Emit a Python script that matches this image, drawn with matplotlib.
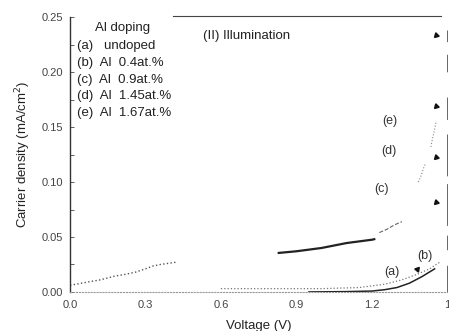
import numpy as np
import matplotlib
matplotlib.use("Agg")
import matplotlib.pyplot as plt

plt.rcParams['font.family'] = ['Liberation Sans', 'DejaVu Sans']

# curve (c): dotted start, solid middle, dashed knee
v_c_dots = [0.0, 0.07, 0.12, 0.18, 0.22, 0.26, 0.30, 0.33, 0.36, 0.39, 0.42]
j_c_dots = [0.006, 0.009, 0.011, 0.0145, 0.016, 0.018, 0.021, 0.0236, 0.025, 0.026, 0.027]
v_c_solid = [0.83, 0.9, 1.0, 1.1, 1.2, 1.21]
j_c_solid = [0.0355, 0.037, 0.040, 0.0445, 0.0475, 0.048]
v_c_dash = [1.23, 1.26, 1.29, 1.32]
j_c_dash = [0.054, 0.057, 0.061, 0.064]

# curves (a) and (b) near the bottom
v_a = [0.95, 1.1, 1.2, 1.25, 1.3, 1.35, 1.4, 1.45]
j_a = [0.0, 0.0003, 0.0008, 0.002, 0.004, 0.008, 0.014, 0.021]
v_b = [0.6, 0.8, 1.0, 1.15, 1.25, 1.32, 1.38, 1.43, 1.47]
j_b = [0.003, 0.003, 0.003, 0.004, 0.007, 0.011, 0.016, 0.021, 0.027]

# steep faint parts of (d) and (e)
v_d = [1.385, 1.395, 1.405, 1.412]
j_d = [0.100, 0.105, 0.112, 0.116]
v_e = [1.435, 1.442, 1.450, 1.456]
j_e = [0.132, 0.140, 0.148, 0.155]

# end marks at the right edge
v_marks = [1.456, 1.456, 1.456, 1.456]
j_marks = [0.234, 0.169, 0.123, 0.082]

labels = ['(a)', '(b)', '(c)', '(d)', '(e)']
label_v = [1.28, 1.41, 1.24, 1.27, 1.27]
label_j = [0.018, 0.033, 0.094, 0.128, 0.156]

legend_lines = ['(a)   undoped', '(b)  Al  0.4at.%', '(c)  Al  0.9at.%',
                '(d)  Al  1.45at.%', '(e)  Al  1.67at.%']

fig = plt.figure(figsize=(4.49, 3.31), dpi=100)
ax = fig.add_axes([0.156, 0.118, 0.84, 0.83])

ax.plot(v_c_dots, j_c_dots, ls=':', lw=1.0, color='#555555')
ax.plot(v_c_solid, j_c_solid, ls='-', lw=1.6, color='#222222')
ax.plot(v_c_dash, j_c_dash, ls='--', lw=0.8, color='#666666')
ax.plot(v_a, j_a, ls='-', lw=1.1, color='#222222')
ax.plot(v_b, j_b, ls=':', lw=0.9, color='#777777')
ax.plot(v_d, j_d, ls=':', lw=0.8, color='#888888')
ax.plot(v_e, j_e, ls=':', lw=0.8, color='#888888')
ax.plot(v_marks, j_marks, ls='none', marker=(3, 0, 15), ms=4, color='#111111')
ax.plot([1.38], [0.021], ls='none', marker=(3, 0, 80), ms=4, color='#111111')

for lab, x, y in zip(labels, label_v, label_j):
    ax.text(x, y, lab, fontsize=9, color='#333333', ha='center', va='center')

ax.text(0.1, 0.240, 'Al doping', fontsize=9.5, color='#222222', va='center')
for i, line in enumerate(legend_lines):
    ax.text(0.028, 0.2235 - i * 0.0152, line, fontsize=9.5, color='#222222', va='center')
ax.text(0.53, 0.2325, '(II) Illumination', fontsize=9.5, color='#222222', va='center')

ax.set_xlim(0, 1.5)
ax.set_ylim(0, 0.25)
ax.set_xticks([0.0, 0.3, 0.6, 0.9, 1.2, 1.5])
ax.set_xticklabels(['0.0', '0.3', '0.6', '0.9', '1.2', '1'])
ax.set_yticks([0.0, 0.05, 0.10, 0.15, 0.20, 0.25])
ax.set_yticklabels(['0.00', '0.05', '0.10', '0.15', '0.20', '0.25'])
ax.set_yticks(np.arange(0.025, 0.25, 0.05), minor=True)
ax.tick_params(axis='both', which='both', direction='in', labelsize=8,
               colors='#444444', length=3, width=0.6)
ax.tick_params(axis='x', length=0, pad=6)
ax.tick_params(axis='y', pad=5)

ax.spines['left'].set_linewidth(1.0)
ax.spines['left'].set_color('#333333')
ax.spines['top'].set_visible(False)
ax.spines['bottom'].set_linestyle(':')
ax.spines['bottom'].set_color('#999999')
ax.spines['right'].set_color('#666666')
ax.spines['right'].set_linewidth(0.7)
ax.spines['right'].set_linestyle((0, (27, 17, 14, 11, 42, 9, 42, 16, 22)))
ax.plot([0.41, 1.475], [0.2515, 0.2515], color='#444444', lw=0.8, clip_on=False)

ax.set_xlabel('Voltage (V)', fontsize=9.5, color='#222222', labelpad=7)
ax.set_ylabel('Carrier density (mA/cm$^2$)', fontsize=9.5, color='#222222', labelpad=6)

fig.savefig('out.png', dpi=100)
